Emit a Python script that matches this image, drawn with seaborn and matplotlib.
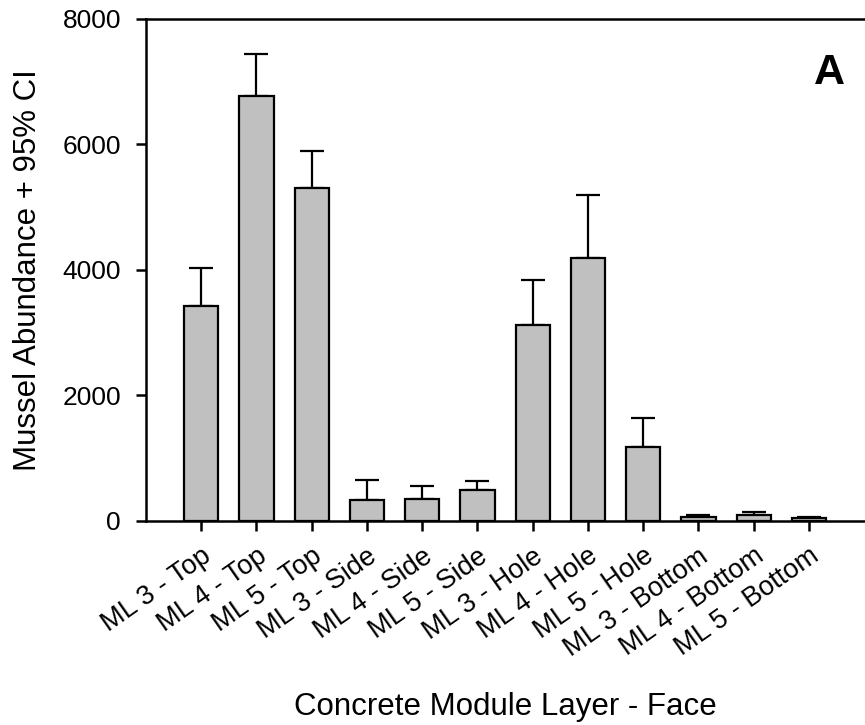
import matplotlib
matplotlib.use("Agg")
import matplotlib.pyplot as plt
import seaborn as sns
import numpy as np
import pandas as pd

categories = ["ML 3 - Top", "ML 4 - Top", "ML 5 - Top",
              "ML 3 - Side", "ML 4 - Side", "ML 5 - Side",
              "ML 3 - Hole", "ML 4 - Hole", "ML 5 - Hole",
              "ML 3 - Bottom", "ML 4 - Bottom", "ML 5 - Bottom"]
means = [3426, 6773, 5307, 335, 351, 494, 3124, 4191, 1184, 69, 90, 48]
upper = [4032, 7442, 5896, 653, 558, 637, 3841, 5196, 1646, 96, 143, 69]
yticks = [0, 2000, 4000, 6000, 8000]

sns.set_style("white")
plt.rcParams['font.family'] = ['Liberation Sans', 'DejaVu Sans']
plt.rcParams['text.color'] = 'black'
plt.rcParams['axes.labelcolor'] = 'black'
plt.rcParams['xtick.color'] = 'black'
plt.rcParams['ytick.color'] = 'black'

df = pd.DataFrame({"cat": categories, "val": means})
ci = np.array(upper) - np.array(means)

fig = plt.figure(figsize=(8.65, 7.25), dpi=100)
ax = fig.add_axes([0.1688, 0.2814, 0.8302, 0.6924])

sns.barplot(data=df, x="cat", y="val", color="#c0c0c0", edgecolor="black",
            linewidth=1.6, width=0.62, saturation=1, ax=ax, zorder=3)
x = np.arange(len(categories))
ax.errorbar(x, means, yerr=[np.zeros(len(ci)), ci], fmt="none", ecolor="black",
            elinewidth=1.6, capsize=8.5, capthick=1.6, zorder=2)

ax.set_xlim(-1, 12)
ax.set_ylim(0, 8000)
ax.set_yticks(yticks)
ax.set_yticklabels([str(v) for v in yticks], fontsize=19)
ax.set_xticks(x)
ax.set_xticklabels(categories, rotation=35, ha="right", rotation_mode="anchor", fontsize=19.5)
ax.tick_params(axis="y", direction="out", length=7, width=1.8, left=True, pad=11)
ax.tick_params(axis="x", direction="out", length=7, width=1.8, bottom=True, pad=9)

for s in ["left", "bottom", "top"]:
    ax.spines[s].set_visible(True)
    ax.spines[s].set_color("black")
    ax.spines[s].set_linewidth(1.8)
ax.spines["right"].set_visible(False)

ax.set_ylabel("Mussel Abundance + 95% CI", fontsize=22.5, labelpad=14)
ax.set_xlabel("Concrete Module Layer - Face", fontsize=22.5, labelpad=22)
ax.text(0.951, 0.893, "A", transform=ax.transAxes, fontsize=31, fontweight="bold",
        ha="center", va="center")

fig.savefig("out.png", dpi=100)
